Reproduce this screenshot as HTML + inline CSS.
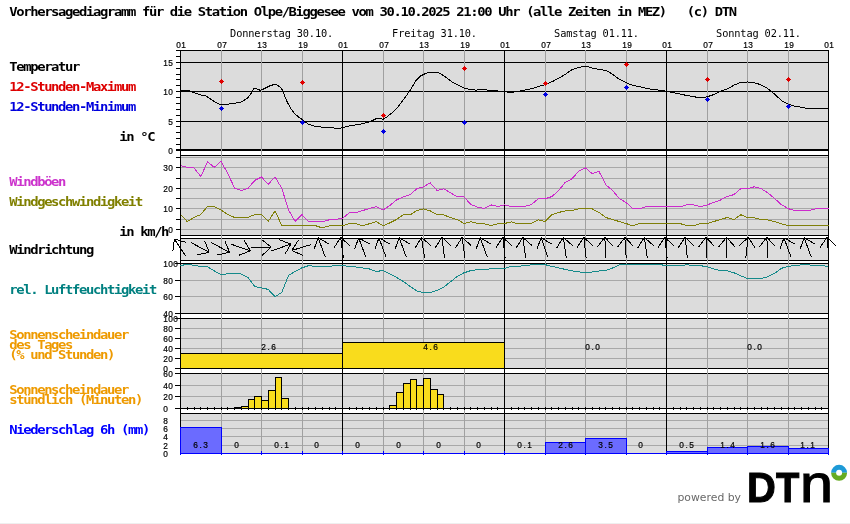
<!DOCTYPE html>
<html lang="de"><head><meta charset="utf-8"><title>Vorhersagediagramm Olpe/Biggesee</title>
<style>
html,body{margin:0;padding:0;background:#fff;overflow:hidden;}
svg{display:block;width:850px;height:524px;will-change:transform;}
.big{font-family:'DejaVu Sans Mono','Liberation Mono',monospace;font-weight:bold;font-size:12.4px;letter-spacing:-1.2px;white-space:pre;}
.tiny{font-family:'Liberation Sans','DejaVu Sans',sans-serif;font-size:8.3px;fill:#000;stroke:#000;stroke-width:0.2px;}
.day{font-family:'DejaVu Sans Mono','Liberation Mono',monospace;font-size:10.3px;letter-spacing:-0.14px;fill:#000;}
.ln{fill:none;stroke-width:1;shape-rendering:crispEdges;}
</style></head><body>
<svg width="850" height="524" viewBox="0 0 850 524">
<rect x="0" y="0" width="850" height="524" fill="#fff"/>
<rect x="0" y="523" width="850" height="1" fill="#efefef"/>
<rect x="180" y="50" width="649" height="101" fill="#dcdcdc"/>
<rect x="180" y="155" width="649" height="81" fill="#dcdcdc"/>
<rect x="180" y="238" width="649" height="23" fill="#dcdcdc"/>
<rect x="180" y="263" width="649" height="51" fill="#dcdcdc"/>
<rect x="180" y="318" width="649" height="51" fill="#dcdcdc"/>
<rect x="180" y="373" width="649" height="36" fill="#dcdcdc"/>
<rect x="180" y="413" width="649" height="41" fill="#dcdcdc"/>
<rect x="180" y="157" width="649" height="1" fill="#a8a8a8"/>
<rect x="180" y="178" width="649" height="1" fill="#a8a8a8"/>
<rect x="180" y="198" width="649" height="1" fill="#a8a8a8"/>
<rect x="180" y="219" width="649" height="1" fill="#a8a8a8"/>
<rect x="180" y="167" width="649" height="1" fill="#a8a8a8"/>
<rect x="180" y="188" width="649" height="1" fill="#a8a8a8"/>
<rect x="180" y="208" width="649" height="1" fill="#a8a8a8"/>
<rect x="180" y="229" width="649" height="1" fill="#a8a8a8"/>
<rect x="180" y="280" width="649" height="1" fill="#a8a8a8"/>
<rect x="180" y="296" width="649" height="1" fill="#a8a8a8"/>
<rect x="180" y="328" width="649" height="1" fill="#a8a8a8"/>
<rect x="180" y="338" width="649" height="1" fill="#a8a8a8"/>
<rect x="180" y="348" width="649" height="1" fill="#a8a8a8"/>
<rect x="180" y="358" width="649" height="1" fill="#a8a8a8"/>
<rect x="180" y="385" width="649" height="1" fill="#a8a8a8"/>
<rect x="180" y="396" width="649" height="1" fill="#a8a8a8"/>
<rect x="180" y="420" width="649" height="1" fill="#a8a8a8"/>
<rect x="180" y="428" width="649" height="1" fill="#a8a8a8"/>
<rect x="180" y="436" width="649" height="1" fill="#a8a8a8"/>
<rect x="180" y="445" width="649" height="1" fill="#a8a8a8"/>
<rect x="176" y="50" width="653" height="1" fill="#000"/>
<rect x="176" y="62" width="653" height="1" fill="#000"/>
<rect x="176" y="91" width="653" height="1" fill="#000"/>
<rect x="176" y="121" width="653" height="1" fill="#000"/>
<rect x="176" y="149" width="653" height="2" fill="#000"/>
<rect x="180" y="155" width="649" height="1" fill="#000"/>
<rect x="180" y="235" width="649" height="1" fill="#000"/>
<rect x="180" y="238" width="649" height="1" fill="#000"/>
<rect x="180" y="260" width="649" height="1" fill="#000"/>
<rect x="175" y="263" width="654" height="1" fill="#000"/>
<rect x="175" y="313" width="654" height="1" fill="#000"/>
<rect x="175" y="318" width="654" height="1" fill="#000"/>
<rect x="175" y="368" width="654" height="1" fill="#000"/>
<rect x="175" y="373" width="654" height="1" fill="#000"/>
<rect x="175" y="408" width="654" height="1" fill="#000"/>
<rect x="180" y="413" width="649" height="1" fill="#000"/>
<rect x="221" y="50" width="1" height="403" fill="#a0a0a0"/>
<rect x="261" y="50" width="1" height="403" fill="#a0a0a0"/>
<rect x="302" y="50" width="1" height="403" fill="#a0a0a0"/>
<rect x="383" y="50" width="1" height="403" fill="#a0a0a0"/>
<rect x="423" y="50" width="1" height="403" fill="#a0a0a0"/>
<rect x="464" y="50" width="1" height="403" fill="#a0a0a0"/>
<rect x="545" y="50" width="1" height="403" fill="#a0a0a0"/>
<rect x="585" y="50" width="1" height="403" fill="#a0a0a0"/>
<rect x="626" y="50" width="1" height="403" fill="#a0a0a0"/>
<rect x="707" y="50" width="1" height="403" fill="#a0a0a0"/>
<rect x="747" y="50" width="1" height="403" fill="#a0a0a0"/>
<rect x="788" y="50" width="1" height="403" fill="#a0a0a0"/>
<rect x="180" y="50" width="1" height="403" fill="#000"/>
<rect x="342" y="50" width="1" height="403" fill="#000"/>
<rect x="504" y="50" width="1" height="403" fill="#000"/>
<rect x="666" y="50" width="1" height="403" fill="#000"/>
<rect x="828" y="50" width="1" height="403" fill="#000"/>
<rect x="176" y="56" width="4" height="1" fill="#000"/>
<rect x="176" y="68" width="4" height="1" fill="#000"/>
<rect x="176" y="74" width="4" height="1" fill="#000"/>
<rect x="176" y="79" width="4" height="1" fill="#000"/>
<rect x="176" y="85" width="4" height="1" fill="#000"/>
<rect x="176" y="97" width="4" height="1" fill="#000"/>
<rect x="176" y="103" width="4" height="1" fill="#000"/>
<rect x="176" y="109" width="4" height="1" fill="#000"/>
<rect x="176" y="115" width="4" height="1" fill="#000"/>
<rect x="176" y="126" width="4" height="1" fill="#000"/>
<rect x="176" y="132" width="4" height="1" fill="#000"/>
<rect x="176" y="138" width="4" height="1" fill="#000"/>
<rect x="176" y="144" width="4" height="1" fill="#000"/>
<rect x="176" y="157" width="4" height="1" fill="#000"/>
<rect x="176" y="167" width="4" height="1" fill="#000"/>
<rect x="176" y="178" width="4" height="1" fill="#000"/>
<rect x="176" y="188" width="4" height="1" fill="#000"/>
<rect x="176" y="198" width="4" height="1" fill="#000"/>
<rect x="176" y="208" width="4" height="1" fill="#000"/>
<rect x="176" y="219" width="4" height="1" fill="#000"/>
<rect x="176" y="229" width="4" height="1" fill="#000"/>
<rect x="175" y="280" width="5" height="1" fill="#000"/>
<rect x="175" y="296" width="5" height="1" fill="#000"/>
<rect x="175" y="328" width="5" height="1" fill="#000"/>
<rect x="175" y="338" width="5" height="1" fill="#000"/>
<rect x="175" y="348" width="5" height="1" fill="#000"/>
<rect x="175" y="358" width="5" height="1" fill="#000"/>
<rect x="175" y="385" width="5" height="1" fill="#000"/>
<rect x="175" y="396" width="5" height="1" fill="#000"/>
<rect x="180" y="353" width="163" height="16" fill="#000"/>
<rect x="181" y="354" width="161" height="14" fill="#f9dc1c"/>
<rect x="342" y="342" width="163" height="27" fill="#000"/>
<rect x="343" y="343" width="161" height="25" fill="#f9dc1c"/>
<rect x="234" y="407" width="8" height="2" fill="#000"/>
<rect x="241" y="406" width="8" height="3" fill="#000"/>
<rect x="242" y="407" width="6" height="1" fill="#f9dc1c"/>
<rect x="248" y="399" width="7" height="10" fill="#000"/>
<rect x="249" y="400" width="5" height="8" fill="#f9dc1c"/>
<rect x="254" y="396" width="8" height="13" fill="#000"/>
<rect x="255" y="397" width="6" height="11" fill="#f9dc1c"/>
<rect x="261" y="400" width="8" height="9" fill="#000"/>
<rect x="262" y="401" width="6" height="7" fill="#f9dc1c"/>
<rect x="268" y="390" width="8" height="19" fill="#000"/>
<rect x="269" y="391" width="6" height="17" fill="#f9dc1c"/>
<rect x="275" y="377" width="7" height="32" fill="#000"/>
<rect x="276" y="378" width="5" height="30" fill="#f9dc1c"/>
<rect x="281" y="398" width="8" height="11" fill="#000"/>
<rect x="282" y="399" width="6" height="9" fill="#f9dc1c"/>
<rect x="389" y="405" width="8" height="4" fill="#000"/>
<rect x="390" y="406" width="6" height="2" fill="#f9dc1c"/>
<rect x="396" y="392" width="8" height="17" fill="#000"/>
<rect x="397" y="393" width="6" height="15" fill="#f9dc1c"/>
<rect x="403" y="383" width="8" height="26" fill="#000"/>
<rect x="404" y="384" width="6" height="24" fill="#f9dc1c"/>
<rect x="410" y="379" width="7" height="30" fill="#000"/>
<rect x="411" y="380" width="5" height="28" fill="#f9dc1c"/>
<rect x="416" y="385" width="8" height="24" fill="#000"/>
<rect x="417" y="386" width="6" height="22" fill="#f9dc1c"/>
<rect x="423" y="378" width="8" height="31" fill="#000"/>
<rect x="424" y="379" width="6" height="29" fill="#f9dc1c"/>
<rect x="430" y="389" width="8" height="20" fill="#000"/>
<rect x="431" y="390" width="6" height="18" fill="#f9dc1c"/>
<rect x="437" y="394" width="7" height="15" fill="#000"/>
<rect x="438" y="395" width="5" height="13" fill="#f9dc1c"/>
<rect x="187" y="407" width="1" height="3" fill="#000"/>
<rect x="194" y="407" width="1" height="3" fill="#000"/>
<rect x="200" y="407" width="1" height="3" fill="#000"/>
<rect x="207" y="407" width="1" height="3" fill="#000"/>
<rect x="214" y="407" width="1" height="3" fill="#000"/>
<rect x="221" y="407" width="1" height="3" fill="#000"/>
<rect x="227" y="407" width="1" height="3" fill="#000"/>
<rect x="234" y="407" width="1" height="3" fill="#000"/>
<rect x="241" y="407" width="1" height="3" fill="#000"/>
<rect x="248" y="407" width="1" height="3" fill="#000"/>
<rect x="254" y="407" width="1" height="3" fill="#000"/>
<rect x="261" y="407" width="1" height="3" fill="#000"/>
<rect x="268" y="407" width="1" height="3" fill="#000"/>
<rect x="275" y="407" width="1" height="3" fill="#000"/>
<rect x="281" y="407" width="1" height="3" fill="#000"/>
<rect x="288" y="407" width="1" height="3" fill="#000"/>
<rect x="295" y="407" width="1" height="3" fill="#000"/>
<rect x="302" y="407" width="1" height="3" fill="#000"/>
<rect x="308" y="407" width="1" height="3" fill="#000"/>
<rect x="315" y="407" width="1" height="3" fill="#000"/>
<rect x="322" y="407" width="1" height="3" fill="#000"/>
<rect x="329" y="407" width="1" height="3" fill="#000"/>
<rect x="335" y="407" width="1" height="3" fill="#000"/>
<rect x="342" y="407" width="1" height="3" fill="#000"/>
<rect x="349" y="407" width="1" height="3" fill="#000"/>
<rect x="356" y="407" width="1" height="3" fill="#000"/>
<rect x="362" y="407" width="1" height="3" fill="#000"/>
<rect x="369" y="407" width="1" height="3" fill="#000"/>
<rect x="376" y="407" width="1" height="3" fill="#000"/>
<rect x="383" y="407" width="1" height="3" fill="#000"/>
<rect x="389" y="407" width="1" height="3" fill="#000"/>
<rect x="396" y="407" width="1" height="3" fill="#000"/>
<rect x="403" y="407" width="1" height="3" fill="#000"/>
<rect x="410" y="407" width="1" height="3" fill="#000"/>
<rect x="416" y="407" width="1" height="3" fill="#000"/>
<rect x="423" y="407" width="1" height="3" fill="#000"/>
<rect x="430" y="407" width="1" height="3" fill="#000"/>
<rect x="437" y="407" width="1" height="3" fill="#000"/>
<rect x="443" y="407" width="1" height="3" fill="#000"/>
<rect x="450" y="407" width="1" height="3" fill="#000"/>
<rect x="457" y="407" width="1" height="3" fill="#000"/>
<rect x="464" y="407" width="1" height="3" fill="#000"/>
<rect x="470" y="407" width="1" height="3" fill="#000"/>
<rect x="477" y="407" width="1" height="3" fill="#000"/>
<rect x="484" y="407" width="1" height="3" fill="#000"/>
<rect x="491" y="407" width="1" height="3" fill="#000"/>
<rect x="497" y="407" width="1" height="3" fill="#000"/>
<rect x="504" y="407" width="1" height="3" fill="#000"/>
<rect x="511" y="407" width="1" height="3" fill="#000"/>
<rect x="518" y="407" width="1" height="3" fill="#000"/>
<rect x="524" y="407" width="1" height="3" fill="#000"/>
<rect x="531" y="407" width="1" height="3" fill="#000"/>
<rect x="538" y="407" width="1" height="3" fill="#000"/>
<rect x="545" y="407" width="1" height="3" fill="#000"/>
<rect x="551" y="407" width="1" height="3" fill="#000"/>
<rect x="558" y="407" width="1" height="3" fill="#000"/>
<rect x="565" y="407" width="1" height="3" fill="#000"/>
<rect x="572" y="407" width="1" height="3" fill="#000"/>
<rect x="578" y="407" width="1" height="3" fill="#000"/>
<rect x="585" y="407" width="1" height="3" fill="#000"/>
<rect x="592" y="407" width="1" height="3" fill="#000"/>
<rect x="599" y="407" width="1" height="3" fill="#000"/>
<rect x="605" y="407" width="1" height="3" fill="#000"/>
<rect x="612" y="407" width="1" height="3" fill="#000"/>
<rect x="619" y="407" width="1" height="3" fill="#000"/>
<rect x="626" y="407" width="1" height="3" fill="#000"/>
<rect x="632" y="407" width="1" height="3" fill="#000"/>
<rect x="639" y="407" width="1" height="3" fill="#000"/>
<rect x="646" y="407" width="1" height="3" fill="#000"/>
<rect x="653" y="407" width="1" height="3" fill="#000"/>
<rect x="659" y="407" width="1" height="3" fill="#000"/>
<rect x="666" y="407" width="1" height="3" fill="#000"/>
<rect x="673" y="407" width="1" height="3" fill="#000"/>
<rect x="680" y="407" width="1" height="3" fill="#000"/>
<rect x="686" y="407" width="1" height="3" fill="#000"/>
<rect x="693" y="407" width="1" height="3" fill="#000"/>
<rect x="700" y="407" width="1" height="3" fill="#000"/>
<rect x="707" y="407" width="1" height="3" fill="#000"/>
<rect x="713" y="407" width="1" height="3" fill="#000"/>
<rect x="720" y="407" width="1" height="3" fill="#000"/>
<rect x="727" y="407" width="1" height="3" fill="#000"/>
<rect x="734" y="407" width="1" height="3" fill="#000"/>
<rect x="740" y="407" width="1" height="3" fill="#000"/>
<rect x="747" y="407" width="1" height="3" fill="#000"/>
<rect x="754" y="407" width="1" height="3" fill="#000"/>
<rect x="761" y="407" width="1" height="3" fill="#000"/>
<rect x="767" y="407" width="1" height="3" fill="#000"/>
<rect x="774" y="407" width="1" height="3" fill="#000"/>
<rect x="781" y="407" width="1" height="3" fill="#000"/>
<rect x="788" y="407" width="1" height="3" fill="#000"/>
<rect x="794" y="407" width="1" height="3" fill="#000"/>
<rect x="801" y="407" width="1" height="3" fill="#000"/>
<rect x="808" y="407" width="1" height="3" fill="#000"/>
<rect x="815" y="407" width="1" height="3" fill="#000"/>
<rect x="821" y="407" width="1" height="3" fill="#000"/>
<rect x="180" y="453" width="649" height="1" fill="#0000ff"/>
<rect x="180" y="451" width="1" height="4" fill="#0000ff"/>
<rect x="221" y="451" width="1" height="4" fill="#0000ff"/>
<rect x="261" y="451" width="1" height="4" fill="#0000ff"/>
<rect x="302" y="451" width="1" height="4" fill="#0000ff"/>
<rect x="342" y="451" width="1" height="4" fill="#0000ff"/>
<rect x="383" y="451" width="1" height="4" fill="#0000ff"/>
<rect x="423" y="451" width="1" height="4" fill="#0000ff"/>
<rect x="464" y="451" width="1" height="4" fill="#0000ff"/>
<rect x="504" y="451" width="1" height="4" fill="#0000ff"/>
<rect x="545" y="451" width="1" height="4" fill="#0000ff"/>
<rect x="585" y="451" width="1" height="4" fill="#0000ff"/>
<rect x="626" y="451" width="1" height="4" fill="#0000ff"/>
<rect x="666" y="451" width="1" height="4" fill="#0000ff"/>
<rect x="707" y="451" width="1" height="4" fill="#0000ff"/>
<rect x="747" y="451" width="1" height="4" fill="#0000ff"/>
<rect x="788" y="451" width="1" height="4" fill="#0000ff"/>
<rect x="828" y="451" width="1" height="4" fill="#0000ff"/>
<rect x="180" y="427" width="42" height="27" fill="#0000ff"/>
<rect x="181" y="428" width="40" height="25" fill="#6b6bff"/>
<rect x="545" y="442" width="41" height="12" fill="#0000ff"/>
<rect x="546" y="443" width="39" height="10" fill="#6b6bff"/>
<rect x="585" y="438" width="42" height="16" fill="#0000ff"/>
<rect x="586" y="439" width="40" height="14" fill="#6b6bff"/>
<rect x="666" y="451" width="42" height="3" fill="#0000ff"/>
<rect x="667" y="452" width="40" height="1" fill="#6b6bff"/>
<rect x="707" y="447" width="41" height="7" fill="#0000ff"/>
<rect x="708" y="448" width="39" height="5" fill="#6b6bff"/>
<rect x="747" y="446" width="42" height="8" fill="#0000ff"/>
<rect x="748" y="447" width="40" height="6" fill="#6b6bff"/>
<rect x="788" y="448" width="41" height="6" fill="#0000ff"/>
<rect x="789" y="449" width="39" height="4" fill="#6b6bff"/>
<polyline class="ln" points="180.4,90.7 189.0,90.7 194.1,92.7 200.1,94.7 206.1,96.1 212.1,100.1 218.1,103.7 221.5,104.7 226.1,104.5 232.1,103.5 238.2,102.7 242.2,101.7 248.2,97.5 251.2,93.1 254.2,88.3 256.2,88.7 260.2,90.3 264.2,88.7 270.2,85.7 274.3,84.5 277.3,85.1 281.3,88.1 283.3,92.1 286.3,100.1 290.3,107.8 294.3,113.2 298.3,116.8 302.3,119.6 308.3,124.2 314.3,126.2 322.4,127.2 330.4,127.8 340.0,128.4 348.0,126.2 360.0,124.2 368.1,122.2 373.1,120.2 377.1,118.2 380.1,118.6 383.1,119.2 387.1,116.8 392.1,112.8 398.1,106.7 404.2,98.7 410.2,90.1 416.2,80.1 420.2,76.1 426.2,73.1 432.2,72.1 437.2,72.3 442.2,74.7 448.3,79.1 452.3,82.1 458.3,85.1 464.3,88.1 470.3,89.5 476.3,90.1 482.3,89.5 488.4,90.1 494.4,90.7 502.4,91.5 508.4,92.1 510.0,92.7 520.0,91.1 530.0,89.1 540.1,86.1 545.5,84.5 554.1,80.7 564.1,75.1 572.1,69.5 578.2,67.7 585.6,66.1 592.2,68.1 600.2,69.5 606.2,70.5 612.2,74.1 618.3,78.7 624.3,81.7 630.3,84.7 638.3,86.5 650.3,89.1 658.4,90.1 665.4,91.1 670.4,92.1 680.0,94.1 688.0,95.7 696.0,97.1 702.1,97.7 707.5,96.7 714.1,94.5 720.1,91.5 728.1,88.7 734.1,85.1 740.1,82.7 747.6,81.9 754.2,82.7 760.2,84.5 766.2,87.5 772.2,92.1 778.2,97.5 782.2,101.1 788.3,104.1 794.3,106.1 800.3,107.1 806.3,108.2 820.3,108.4 828.8,108.4" stroke="#000"/>
<polyline class="ln" points="180.5,165.6 187.2,167.4 194.0,167.8 200.8,176.6 207.5,161.8 214.2,167.4 221.0,161.4 227.8,173.4 234.5,188.0 241.2,190.6 248.0,188.4 254.8,180.4 261.5,177.0 268.2,184.4 275.0,176.8 281.8,188.4 288.5,209.9 295.2,221.5 302.0,214.7 308.8,221.7 315.5,221.9 322.2,221.7 329.0,219.9 335.8,219.3 342.5,218.5 349.2,212.9 356.0,212.5 362.8,210.5 369.5,208.5 376.2,206.7 383.0,210.1 389.8,205.5 396.5,200.0 403.2,196.8 410.0,194.8 416.8,188.8 423.5,186.8 430.2,182.8 437.0,190.4 443.8,188.8 450.5,192.8 457.2,196.6 464.0,196.8 470.8,204.5 477.5,207.1 484.2,208.5 491.0,204.9 497.8,206.5 504.5,204.9 511.2,206.7 518.0,206.7 524.8,206.5 531.5,204.5 538.2,198.8 545.0,198.8 551.8,196.6 558.5,190.8 565.2,182.4 572.0,178.8 578.8,171.0 585.5,168.0 592.2,173.6 599.0,171.4 605.8,184.8 612.5,190.4 619.2,198.4 626.0,202.4 632.8,208.7 639.5,208.7 646.2,206.7 653.0,206.7 659.8,206.7 666.5,206.7 673.2,206.7 680.0,206.7 686.8,204.9 693.5,204.9 700.2,206.7 707.0,204.9 713.8,202.4 720.5,200.0 727.2,196.4 734.0,194.6 740.8,188.6 747.5,188.6 754.2,186.8 761.0,188.6 767.8,192.8 774.5,198.4 781.2,204.5 788.0,208.5 794.8,210.7 801.5,210.7 808.2,210.7 815.0,208.9 821.8,208.9 828.5,208.9" stroke="#cc2ccc"/>
<polyline class="ln" points="180.5,214.7 187.2,221.5 194.0,217.5 200.8,214.5 207.5,206.5 214.2,206.5 221.0,209.9 227.8,214.5 234.5,217.5 241.2,217.5 248.0,217.5 254.8,214.5 261.5,214.7 268.2,221.5 275.0,210.9 281.8,225.5 288.5,225.7 295.2,225.7 302.0,225.7 308.8,225.7 315.5,225.7 322.2,227.9 329.0,225.9 335.8,225.7 342.5,225.7 349.2,223.7 356.0,223.7 362.8,225.7 369.5,223.7 376.2,221.7 383.0,225.7 389.8,222.9 396.5,219.5 403.2,214.9 410.0,214.9 416.8,210.5 423.5,208.9 430.2,210.9 437.0,214.7 443.8,214.9 450.5,217.7 457.2,219.5 464.0,223.5 470.8,221.7 477.5,223.5 484.2,223.7 491.0,225.7 497.8,223.7 504.5,223.5 511.2,221.9 518.0,223.7 524.8,223.7 531.5,223.3 538.2,219.7 545.0,221.7 551.8,214.9 558.5,212.5 565.2,210.9 572.0,210.5 578.8,208.9 585.5,208.7 592.2,208.9 599.0,212.5 605.8,217.5 612.5,219.5 619.2,221.5 626.0,223.5 632.8,225.9 639.5,223.5 646.2,223.5 653.0,223.5 659.8,223.5 666.5,223.5 673.2,223.5 680.0,223.5 686.8,225.7 693.5,225.7 700.2,223.7 707.0,223.7 713.8,221.5 720.5,219.5 727.2,217.5 734.0,219.5 740.8,214.7 747.5,217.5 754.2,217.7 761.0,219.5 767.8,219.9 774.5,221.5 781.2,223.7 788.0,225.7 794.8,225.7 801.5,225.7 808.2,225.7 815.0,225.7 821.8,225.7 828.5,225.7" stroke="#80800a"/>
<polyline class="ln" points="180.5,265.8 187.2,264.0 194.0,265.4 200.8,266.4 207.5,266.8 214.2,270.8 221.0,274.8 227.8,273.8 234.5,273.8 241.2,274.0 248.0,277.4 254.8,286.6 261.5,287.8 268.2,289.4 275.0,296.7 281.8,292.5 288.5,275.4 295.2,271.4 302.0,267.8 308.8,265.6 315.5,266.4 322.2,266.4 329.0,266.4 335.8,265.6 342.5,265.6 349.2,266.4 356.0,267.0 362.8,268.0 369.5,269.0 376.2,271.4 383.0,270.6 389.8,274.0 396.5,277.4 403.2,281.4 410.0,286.4 416.8,290.9 423.5,292.7 430.2,292.7 437.0,290.4 443.8,287.0 450.5,281.8 457.2,276.4 464.0,272.8 470.8,270.6 477.5,269.6 484.2,269.4 491.0,268.8 497.8,268.8 504.5,268.4 511.2,266.4 518.0,266.4 524.8,265.6 531.5,264.8 538.2,264.6 545.0,264.6 551.8,266.4 558.5,267.8 565.2,269.4 572.0,270.8 578.8,271.8 585.5,272.8 592.2,272.0 599.0,271.0 605.8,270.4 612.5,268.0 619.2,265.0 626.0,264.8 632.8,264.0 639.5,264.8 646.2,264.6 653.0,264.6 659.8,264.6 666.5,265.6 673.2,265.6 680.0,265.6 686.8,264.8 693.5,265.6 700.2,265.6 707.0,266.8 713.8,269.0 720.5,270.6 727.2,270.8 734.0,272.8 740.8,275.8 747.5,278.6 754.2,278.8 761.0,278.6 767.8,276.8 774.5,273.4 781.2,268.4 788.0,266.4 794.8,265.6 801.5,264.8 808.2,264.8 815.0,265.6 821.8,265.6 828.5,266.4" stroke="#158a8a"/>
<path d="M221,79h1v1h1v1h1v1h-1v1h-1v1h-1v-1h-1v-1h-1v-1h1v-1h1z" fill="#e00000" shape-rendering="crispEdges"/>
<path d="M302,80h1v1h1v1h1v1h-1v1h-1v1h-1v-1h-1v-1h-1v-1h1v-1h1z" fill="#e00000" shape-rendering="crispEdges"/>
<path d="M383,113h1v1h1v1h1v1h-1v1h-1v1h-1v-1h-1v-1h-1v-1h1v-1h1z" fill="#e00000" shape-rendering="crispEdges"/>
<path d="M464,66h1v1h1v1h1v1h-1v1h-1v1h-1v-1h-1v-1h-1v-1h1v-1h1z" fill="#e00000" shape-rendering="crispEdges"/>
<path d="M545,81h1v1h1v1h1v1h-1v1h-1v1h-1v-1h-1v-1h-1v-1h1v-1h1z" fill="#e00000" shape-rendering="crispEdges"/>
<path d="M626,62h1v1h1v1h1v1h-1v1h-1v1h-1v-1h-1v-1h-1v-1h1v-1h1z" fill="#e00000" shape-rendering="crispEdges"/>
<path d="M707,77h1v1h1v1h1v1h-1v1h-1v1h-1v-1h-1v-1h-1v-1h1v-1h1z" fill="#e00000" shape-rendering="crispEdges"/>
<path d="M788,77h1v1h1v1h1v1h-1v1h-1v1h-1v-1h-1v-1h-1v-1h1v-1h1z" fill="#e00000" shape-rendering="crispEdges"/>
<path d="M221,106h1v1h1v1h1v1h-1v1h-1v1h-1v-1h-1v-1h-1v-1h1v-1h1z" fill="#0000e0" shape-rendering="crispEdges"/>
<path d="M302,120h1v1h1v1h1v1h-1v1h-1v1h-1v-1h-1v-1h-1v-1h1v-1h1z" fill="#0000e0" shape-rendering="crispEdges"/>
<path d="M383,129h1v1h1v1h1v1h-1v1h-1v1h-1v-1h-1v-1h-1v-1h1v-1h1z" fill="#0000e0" shape-rendering="crispEdges"/>
<path d="M464,120h1v1h1v1h1v1h-1v1h-1v1h-1v-1h-1v-1h-1v-1h1v-1h1z" fill="#0000e0" shape-rendering="crispEdges"/>
<path d="M545,92h1v1h1v1h1v1h-1v1h-1v1h-1v-1h-1v-1h-1v-1h1v-1h1z" fill="#0000e0" shape-rendering="crispEdges"/>
<path d="M626,85h1v1h1v1h1v1h-1v1h-1v1h-1v-1h-1v-1h-1v-1h1v-1h1z" fill="#0000e0" shape-rendering="crispEdges"/>
<path d="M707,97h1v1h1v1h1v1h-1v1h-1v1h-1v-1h-1v-1h-1v-1h1v-1h1z" fill="#0000e0" shape-rendering="crispEdges"/>
<path d="M788,104h1v1h1v1h1v1h-1v1h-1v1h-1v-1h-1v-1h-1v-1h1v-1h1z" fill="#0000e0" shape-rendering="crispEdges"/>
<path class="ln" d="M185.6,256.1L174.4,238.9 M174.4,238.9L186.2,242.5 M174.4,238.9L172.9,251.1" stroke="#000"/>
<path class="ln" d="M191.2,242.7L209.3,252.3 M209.3,252.3L197.3,254.9 M209.3,252.3L204.7,240.9" stroke="#000"/>
<path class="ln" d="M211.4,242.7L229.6,252.3 M229.6,252.3L217.5,254.9 M229.6,252.3L224.9,240.9" stroke="#000"/>
<path class="ln" d="M231.1,244.2L250.4,250.8 M250.4,250.8L239.0,255.2 M250.4,250.8L244.1,240.3" stroke="#000"/>
<path class="ln" d="M250.8,247.9L271.2,247.1 M271.2,247.1L262.1,255.4 M271.2,247.1L261.6,239.6" stroke="#000"/>
<path class="ln" d="M271.6,251.0L290.9,244.0 M290.9,244.0L284.7,254.6 M290.9,244.0L279.3,239.8" stroke="#000"/>
<path class="ln" d="M311.3,244.5L291.7,250.5 M291.7,250.5L298.4,240.2 M291.7,250.5L303.0,255.3" stroke="#000"/>
<path class="ln" d="M325.3,257.1L318.2,237.9 M318.2,237.9L328.9,244.0 M318.2,237.9L314.0,249.4" stroke="#000"/>
<path class="ln" d="M343.4,257.7L340.6,237.3 M340.6,237.3L349.7,245.6 M340.6,237.3L334.1,247.8" stroke="#000"/>
<path class="ln" d="M365.8,257.1L358.7,237.9 M358.7,237.9L369.4,244.0 M358.7,237.9L354.5,249.4" stroke="#000"/>
<path class="ln" d="M386.0,257.1L379.0,237.9 M379.0,237.9L389.6,244.0 M379.0,237.9L374.8,249.4" stroke="#000"/>
<path class="ln" d="M406.3,257.1L399.2,237.9 M399.2,237.9L409.9,244.0 M399.2,237.9L395.0,249.4" stroke="#000"/>
<path class="ln" d="M424.6,257.6L421.4,237.4 M421.4,237.4L430.7,245.4 M421.4,237.4L415.1,247.9" stroke="#000"/>
<path class="ln" d="M444.5,257.7L442.0,237.3 M442.0,237.3L451.0,245.7 M442.0,237.3L435.3,247.6" stroke="#000"/>
<path class="ln" d="M464.9,257.7L462.1,237.3 M462.1,237.3L471.2,245.6 M462.1,237.3L455.6,247.8" stroke="#000"/>
<path class="ln" d="M487.3,257.1L480.2,237.9 M480.2,237.9L490.9,244.0 M480.2,237.9L476.0,249.4" stroke="#000"/>
<path class="ln" d="M505.1,257.7L502.9,237.3 M502.9,237.3L511.8,245.9 M502.9,237.3L496.1,247.5" stroke="#000"/>
<path class="ln" d="M525.7,257.7L522.8,237.3 M522.8,237.3L532.0,245.6 M522.8,237.3L516.3,247.8" stroke="#000"/>
<path class="ln" d="M547.8,257.2L541.2,237.8 M541.2,237.8L551.7,244.1 M541.2,237.8L536.8,249.3" stroke="#000"/>
<path class="ln" d="M566.2,257.7L563.3,237.3 M563.3,237.3L572.5,245.6 M563.3,237.3L556.8,247.8" stroke="#000"/>
<path class="ln" d="M586.1,257.7L583.9,237.3 M583.9,237.3L592.8,245.9 M583.9,237.3L577.1,247.5" stroke="#000"/>
<path class="ln" d="M605.6,257.7L604.9,237.3 M604.9,237.3L613.1,246.4 M604.9,237.3L597.3,246.9" stroke="#000"/>
<path class="ln" d="M626.2,257.7L624.8,237.3 M624.8,237.3L633.3,246.1 M624.8,237.3L617.6,247.2" stroke="#000"/>
<path class="ln" d="M647.2,257.7L644.3,237.3 M644.3,237.3L653.5,245.6 M644.3,237.3L637.8,247.8" stroke="#000"/>
<path class="ln" d="M667.1,257.7L664.9,237.3 M664.9,237.3L673.8,245.9 M664.9,237.3L658.1,247.5" stroke="#000"/>
<path class="ln" d="M687.3,257.7L685.2,237.3 M685.2,237.3L694.0,245.9 M685.2,237.3L678.3,247.5" stroke="#000"/>
<path class="ln" d="M707.0,257.7L706.0,237.3 M706.0,237.3L714.4,246.3 M706.0,237.3L698.6,247.1" stroke="#000"/>
<path class="ln" d="M726.9,257.7L726.6,237.3 M726.6,237.3L734.6,246.5 M726.6,237.3L718.8,246.8" stroke="#000"/>
<path class="ln" d="M745.8,257.7L748.2,237.3 M748.2,237.3L754.9,247.6 M748.2,237.3L739.3,245.7" stroke="#000"/>
<path class="ln" d="M767.6,257.7L766.9,237.3 M766.9,237.3L775.1,246.4 M766.9,237.3L759.3,246.9" stroke="#000"/>
<path class="ln" d="M791.0,257.1L784.0,237.9 M784.0,237.9L794.6,244.0 M784.0,237.9L779.8,249.4" stroke="#000"/>
<path class="ln" d="M811.3,257.1L804.2,237.9 M804.2,237.9L814.9,244.0 M804.2,237.9L800.0,249.4" stroke="#000"/>
<path class="ln" d="M828.9,257.7L827.1,237.3 M827.1,237.3L835.8,246.0 M827.1,237.3L820.1,247.4" stroke="#000"/>
<text transform="translate(9.2,16.4) scale(1.117,1)" class="big" fill="#000" xml:space="preserve">Vorhersagediagramm für die Station Olpe/Biggesee vom 30.10.2025 21:00 Uhr (alle Zeiten in MEZ)   (c) DTN</text>
<text transform="translate(9.2,71.4) scale(1.117,1)" class="big" fill="#000" xml:space="preserve">Temperatur</text>
<text transform="translate(9.2,91.4) scale(1.117,1)" class="big" fill="#dd0000" xml:space="preserve">12-Stunden-Maximum</text>
<text transform="translate(9.2,111.4) scale(1.117,1)" class="big" fill="#0000dd" xml:space="preserve">12-Stunden-Minimum</text>
<text transform="translate(119.2,141.4) scale(1.117,1)" class="big" fill="#000" xml:space="preserve">in °C</text>
<text transform="translate(9.2,186.4) scale(1.117,1)" class="big" fill="#cc33cc" xml:space="preserve">Windböen</text>
<text transform="translate(9.2,206.4) scale(1.117,1)" class="big" fill="#808000" xml:space="preserve">Windgeschwindigkeit</text>
<text transform="translate(119.2,236.4) scale(1.117,1)" class="big" fill="#000" xml:space="preserve">in km/h</text>
<text transform="translate(9.2,254.4) scale(1.117,1)" class="big" fill="#000" xml:space="preserve">Windrichtung</text>
<text transform="translate(9.2,294.4) scale(1.117,1)" class="big" fill="#008080" xml:space="preserve">rel. Luftfeuchtigkeit</text>
<text transform="translate(9.2,339.4) scale(1.117,1)" class="big" fill="#ee9a00" xml:space="preserve">Sonnenscheindauer</text>
<text transform="translate(9.2,349.4) scale(1.117,1)" class="big" fill="#ee9a00" xml:space="preserve">des Tages</text>
<text transform="translate(9.2,359.4) scale(1.117,1)" class="big" fill="#ee9a00" xml:space="preserve">(% und Stunden)</text>
<text transform="translate(9.2,394.4) scale(1.117,1)" class="big" fill="#ee9a00" xml:space="preserve">Sonnenscheindauer</text>
<text transform="translate(9.2,404.4) scale(1.117,1)" class="big" fill="#ee9a00" xml:space="preserve">stündlich (Minuten)</text>
<text transform="translate(9.2,434.4) scale(1.117,1)" class="big" fill="#0000ff" xml:space="preserve">Niederschlag 6h (mm)</text>
<text x="230.1" y="37" class="day" xml:space="preserve">Donnerstag 30.10.</text>
<text x="392.1" y="37" class="day" xml:space="preserve">Freitag 31.10.</text>
<text x="554.1" y="37" class="day" xml:space="preserve">Samstag 01.11.</text>
<text x="716.1" y="37" class="day" xml:space="preserve">Sonntag 02.11.</text>
<text x="176.30 181.30" y="48" class="tiny">01</text>
<text x="217.30 222.30" y="48" class="tiny">07</text>
<text x="257.30 262.30" y="48" class="tiny">13</text>
<text x="298.30 303.30" y="48" class="tiny">19</text>
<text x="338.30 343.30" y="48" class="tiny">01</text>
<text x="379.30 384.30" y="48" class="tiny">07</text>
<text x="419.30 424.30" y="48" class="tiny">13</text>
<text x="460.30 465.30" y="48" class="tiny">19</text>
<text x="500.30 505.30" y="48" class="tiny">01</text>
<text x="541.30 546.30" y="48" class="tiny">07</text>
<text x="581.30 586.30" y="48" class="tiny">13</text>
<text x="622.30 627.30" y="48" class="tiny">19</text>
<text x="662.30 667.30" y="48" class="tiny">01</text>
<text x="703.30 708.30" y="48" class="tiny">07</text>
<text x="743.30 748.30" y="48" class="tiny">13</text>
<text x="784.30 789.30" y="48" class="tiny">19</text>
<text x="824.30 829.30" y="48" class="tiny">01</text>
<text x="163.30 168.30" y="66" class="tiny">15</text>
<text x="163.30 168.30" y="95" class="tiny">10</text>
<text x="163.30 168.30" y="125" class="tiny"> 5</text>
<text x="163.30 168.30" y="154" class="tiny"> 0</text>
<text x="163.30 168.30" y="171" class="tiny">30</text>
<text x="163.30 168.30" y="192" class="tiny">20</text>
<text x="163.30 168.30" y="212" class="tiny">10</text>
<text x="163.30 168.30" y="233" class="tiny"> 0</text>
<text x="163.30 168.30 173.30" y="267" class="tiny">100</text>
<text x="163.30 168.30" y="284" class="tiny">80</text>
<text x="163.30 168.30" y="300" class="tiny">60</text>
<text x="163.30 168.30" y="317" class="tiny">40</text>
<text x="163.30 168.30 173.30" y="322" class="tiny">100</text>
<text x="163.30 168.30" y="332" class="tiny">80</text>
<text x="163.30 168.30" y="342" class="tiny">60</text>
<text x="163.30 168.30" y="352" class="tiny">40</text>
<text x="163.30 168.30" y="362" class="tiny">20</text>
<text x="163.30" y="372" class="tiny">0</text>
<text x="163.30 168.30" y="377" class="tiny">60</text>
<text x="163.30 168.30" y="389" class="tiny">40</text>
<text x="163.30 168.30" y="400" class="tiny">20</text>
<text x="163.30" y="412" class="tiny">0</text>
<text x="163.30" y="424" class="tiny">8</text>
<text x="163.30" y="432" class="tiny">6</text>
<text x="163.30" y="440" class="tiny">4</text>
<text x="163.30" y="449" class="tiny">2</text>
<text x="163.30" y="457" class="tiny">0</text>
<text x="261.30 267.40 271.30" y="350" class="tiny">2.6</text>
<text x="423.30 429.40 433.30" y="350" class="tiny">4.6</text>
<text x="585.30 591.40 595.30" y="350" class="tiny">0.0</text>
<text x="747.30 753.40 757.30" y="350" class="tiny">0.0</text>
<text x="193.30 199.40 203.30" y="448" class="tiny">6.3</text>
<text x="234.30" y="448" class="tiny">0</text>
<text x="274.30 280.40 284.30" y="448" class="tiny">0.1</text>
<text x="314.30" y="448" class="tiny">0</text>
<text x="355.30" y="448" class="tiny">0</text>
<text x="396.30" y="448" class="tiny">0</text>
<text x="436.30" y="448" class="tiny">0</text>
<text x="476.30" y="448" class="tiny">0</text>
<text x="517.30 523.40 527.30" y="448" class="tiny">0.1</text>
<text x="558.30 564.40 568.30" y="448" class="tiny">2.6</text>
<text x="598.30 604.40 608.30" y="448" class="tiny">3.5</text>
<text x="638.30" y="448" class="tiny">0</text>
<text x="679.30 685.40 689.30" y="448" class="tiny">0.5</text>
<text x="720.30 726.40 730.30" y="448" class="tiny">1.4</text>
<text x="760.30 766.40 770.30" y="448" class="tiny">1.6</text>
<text x="800.30 806.40 810.30" y="448" class="tiny">1.1</text>
<text transform="translate(677.5,500.6) scale(1,0.93)" font-family="'DejaVu Sans','Liberation Sans',sans-serif" font-size="11.6px" fill="#686868" textLength="63.5" lengthAdjust="spacingAndGlyphs">powered by</text>
<text transform="translate(747,501.6) scale(0.95,1)" font-family="'Liberation Sans','DejaVu Sans',sans-serif" font-weight="bold" font-size="42px" fill="#000" stroke="#000" stroke-width="1">D</text>
<text transform="translate(775.9,501.6) scale(0.91,1)" font-family="'Liberation Sans','DejaVu Sans',sans-serif" font-weight="bold" font-size="42px" fill="#000" stroke="#000" stroke-width="1">T</text>
<text transform="translate(800,501.5) scale(1.12,1)" font-family="'Liberation Sans','DejaVu Sans',sans-serif" font-size="53px" fill="#000" stroke="#000" stroke-width="1.2" style="text-transform:lowercase">N</text>
<path d="M833.60,472.80 A5.50,5.50 0 0 1 844.60,472.80" fill="none" stroke="#1e9ad7" stroke-width="5.00"/>
<path d="M833.60,472.80 A5.50,5.50 0 0 0 844.60,472.80" fill="none" stroke="#66ab22" stroke-width="5.00"/>
</svg></body></html>
